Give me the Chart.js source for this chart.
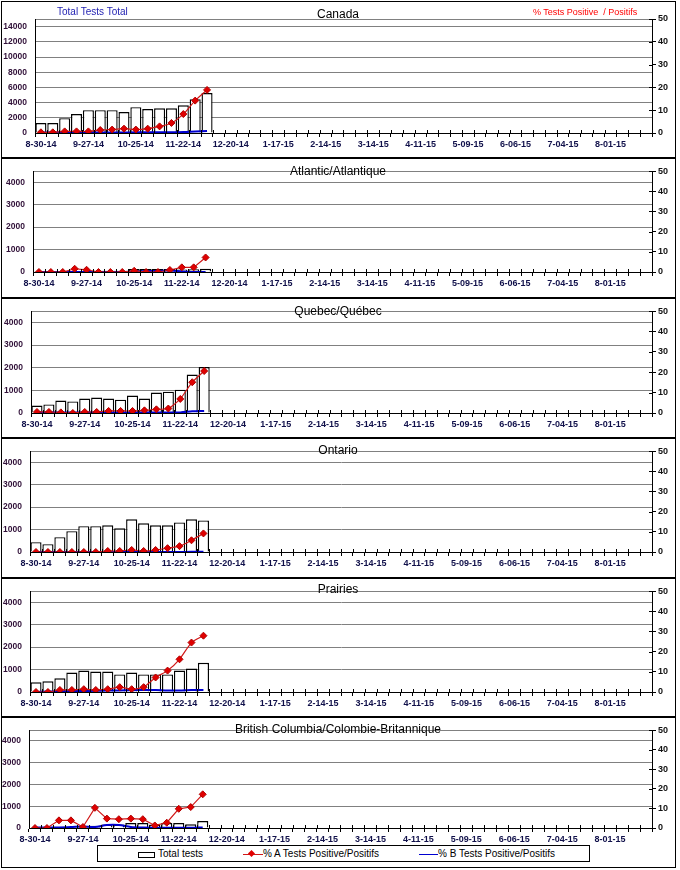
<!DOCTYPE html>
<html>
<head>
<meta charset="utf-8">
<script src="https://cdn.jsdelivr.net/npm/chart.js@4.4.1/dist/chart.umd.min.js"></script>
<style>
  body { margin: 0; width: 680px; height: 870px; background: #fff; position: relative; overflow: hidden;
         font-family: "Liberation Sans", Arial, sans-serif; }
  .panel { position: absolute; left: 1px; width: 673px; border: 1px solid #000; box-sizing: content-box; }
  canvas { position: absolute; left: 0; }
  .title { position: absolute; left: 0; width: 676px; text-align: center; font-size: 12px; line-height: 12px; color: #000; }
  .note { position: absolute; font-size: 10px; line-height: 10px; white-space: pre; }
  #legend { position: absolute; left: 97px; top: 845px; width: 491px; height: 15px; border: 1px solid #000; background: #fff; }
  #legend span { position: absolute; }
  #legend .txt { font-size: 10px; line-height: 10px; top: 3px; white-space: nowrap; }
</style>
</head>
<body>

<script>
// Week labels (Saturday of each week)
const weeks = ['8-30-14','9-06-14','9-13-14','9-20-14','9-27-14','10-04-14','10-11-14','10-18-14','10-25-14',
  '11-01-14','11-08-14','11-15-14','11-22-14','11-29-14','12-06-14','12-13-14','12-20-14','12-27-14',
  '1-03-15','1-10-15','1-17-15','1-24-15','1-31-15','2-07-15','2-14-15','2-21-15','2-28-15','3-07-15',
  '3-14-15','3-21-15','3-28-15','4-04-15','4-11-15','4-18-15','4-25-15','5-02-15','5-09-15','5-16-15',
  '5-23-15','5-30-15','6-06-15','6-13-15','6-20-15','6-27-15','7-04-15','7-11-15','7-18-15','7-25-15',
  '8-01-15','8-08-15','8-15-15','8-22-15'];

// axis ticks (last value of the left lists is the unlabeled top of the plot)
const canadaLeftTicks = [0, 2000, 4000, 6000, 8000, 10000, 12000, 14000, 15000];
const regionLeftTicks = [0, 1000, 2000, 3000, 4000, 4500];
const rightTicks = [0, 10, 20, 30, 40, 50];

// Total tests per week
const canadaTests   = [1300,1300,1950,2500,3000,3000,3000,2750,3400,3150,3250,3250,3650,4450,5250];
const atlanticTests = [30,30,30,40,60,60,60,60,130,130,130,130,110,120,140];
const quebecTests   = [330,380,550,510,640,680,640,590,770,640,900,940,1030,1700,2030];
const ontarioTests  = [440,350,660,930,1150,1150,1190,1060,1460,1280,1190,1190,1320,1460,1410];
const prairiesTests = [435,478,609,870,957,913,913,783,870,783,783,783,957,1043,1304];
const bcTests       = [20,20,50,50,60,100,160,160,230,230,160,230,230,170,320];

// % A positive
const canadaA   = [0.3,0.3,0.7,0.7,0.7,1.3,1.5,1.9,1.5,1.9,2.9,4.4,8.3,14.2,18.9];
const atlanticA = [0,0,0,1.6,1.1,0,0,0,0.6,0,0,1.0,2.3,2.3,7.2];
const quebecA   = [0.5,0.5,0.3,0,0.5,0.5,1.0,1.0,1.0,1.3,1.8,2.2,6.9,15.1,20.6];
const ontarioA  = [0,0,0,0,0,0,0.5,0.5,1.0,0.5,1.0,1.9,2.9,5.8,9.2];
const prairiesA = [0,0,1.0,1.0,1.4,1.0,1.4,2.4,1.4,2.4,7.2,10.6,16.2,24.5,27.9];
const bcA       = [0,0,3.9,3.9,0.5,10.3,4.8,4.5,4.8,4.5,1.3,2.7,9.8,10.7,17.2];

// % B positive
const canadaB   = [0.2,0.2,0.2,0.2,0.2,0.2,0.2,0.2,0.3,0.3,0.3,0.3,0.4,0.7,0.9];
const atlanticB = [0,0,0,0,0,0,0,0,0.3,0.5,0.5,0.7,0.3,0,0];
const quebecB   = [0.3,0.3,0.3,0.3,0.3,0.3,0.3,0.3,0.3,0.3,0.3,0.3,0.3,0.8,1.0];
const ontarioB  = [0,0,0,0,0,0,0,0,0,0,0,0,0,0.1,0.1];
const prairiesB = [0,0.2,0.3,0.4,0.5,0.6,0.7,0.8,0.9,1.0,1.0,0.8,0.8,1.0,1.0];
const bcB       = [0.3,0.3,0.3,0.5,0.8,0.5,1.5,1.5,0.5,0.2,0.1,0.1,0.1,0.1,0.3];

const panels = [
  { title: 'Canada', tests: canadaTests, a: canadaA, b: canadaB, leftTicks: canadaLeftTicks,
    top: 1, h: 157, pad: 18, axisH: 25, left: 35, titleTop: 8, tension: 0.35 },
  { title: 'Atlantic/Atlantique', tests: atlanticTests, a: atlanticA, b: atlanticB, leftTicks: regionLeftTicks,
    top: 158, h: 140, pad: 10, axisH: 26, left: 33, titleTop: 165, tension: 0 },
  { title: 'Quebec/Québec', tests: quebecTests, a: quebecA, b: quebecB, leftTicks: regionLeftTicks,
    top: 298, h: 140, pad: 11, axisH: 25, left: 31, titleTop: 305, tension: 0.2 },
  { title: 'Ontario', tests: ontarioTests, a: ontarioA, b: ontarioB, leftTicks: regionLeftTicks,
    top: 438, h: 140, pad: 11, axisH: 26, left: 30, titleTop: 444, tension: 0.3 },
  { title: 'Prairies', tests: prairiesTests, a: prairiesA, b: prairiesB, leftTicks: regionLeftTicks,
    top: 578, h: 139, pad: 10, axisH: 25, left: 30, titleTop: 583, tension: 0.2 },
  { title: 'British Columbia/Colombie-Britannique', tests: bcTests, a: bcA, b: bcB, leftTicks: regionLeftTicks,
    top: 717, h: 151, pad: 11, axisH: 40, left: 29, titleTop: 723, tension: 0 }
];

// small tick marks on the inner side of the x axis and the right axis
const crossTicks = {
  id: 'crossTicks',
  afterDraw(chart) {
    const { ctx, chartArea: a, scales: { x, y1 } } = chart;
    ctx.save();
    ctx.strokeStyle = '#000';
    ctx.lineWidth = 1;
    ctx.beginPath();
    const w = (x.getPixelForValue(1) - x.getPixelForValue(0));
    for (let i = 0; i <= weeks.length; i++) {
      const px = Math.round(x.getPixelForValue(i) - w / 2) + 0.5;
      ctx.moveTo(px, a.bottom - 3);
      ctx.lineTo(px, a.bottom);
    }
    y1.ticks.forEach(t => {
      const py = Math.round(y1.getPixelForValue(t.value)) + 0.5;
      ctx.moveTo(a.right - 3, py);
      ctx.lineTo(a.right, py);
    });
    ctx.stroke();
    ctx.restore();
  }
};

const tickFont = { family: '"Liberation Sans", Arial', weight: 'bold' };

panels.forEach(p => {
  const box = document.createElement('div');
  box.className = 'panel';
  box.style.top = p.top + 'px';
  box.style.height = (p.h - 2) + 'px';
  document.body.appendChild(box);

  const cv = document.createElement('canvas');
  cv.width = 680;
  cv.height = p.h;
  cv.style.top = p.top + 'px';
  document.body.appendChild(cv);

  const t = document.createElement('div');
  t.className = 'title';
  t.style.top = p.titleTop + 'px';
  t.textContent = p.title;
  document.body.appendChild(t);

  const topTick = p.leftTicks[p.leftTicks.length - 1];

  new Chart(cv, {
    type: 'bar',
    data: {
      labels: weeks,
      datasets: [
        {
          type: 'line', label: '% A Tests Positive/Positifs', data: p.a, yAxisID: 'y1', order: 0,
          borderColor: '#d01818', borderWidth: 1.2, tension: p.tension,
          pointStyle: 'rectRot', pointRadius: 3.5, pointBackgroundColor: '#e00000', pointBorderColor: '#b00000', pointBorderWidth: 1
        },
        {
          type: 'line', label: '% B Tests Positive/Positifs', data: p.b, yAxisID: 'y1', order: 1,
          borderColor: '#0000d0', borderWidth: 2, pointRadius: 0, tension: 0.3
        },
        {
          type: 'bar', label: 'Total tests', data: p.tests, yAxisID: 'y', order: 2,
          backgroundColor: '#fff', borderColor: '#000', borderWidth: 1.4,
          barPercentage: 0.93, categoryPercentage: 1
        }
      ]
    },
    options: {
      responsive: false,
      animation: false,
      devicePixelRatio: 1,
      layout: { padding: { top: p.pad, left: 0, right: 0, bottom: 0 } },
      plugins: { legend: { display: false }, tooltip: { enabled: false } },
      scales: {
        x: {
          type: 'category',
          offset: true,
          grid: { offset: true, drawOnChartArea: false, tickLength: 4, color: '#000' },
          border: { color: '#000', width: 1 },
          ticks: {
            autoSkip: false, maxRotation: 0, minRotation: 0, padding: 2,
            color: '#10104a', font: { ...tickFont, size: 9 },
            callback: (v, i) => (i % 4 === 0 ? weeks[i] : '')
          },
          afterFit: s => { s.height = p.axisH; }
        },
        y: {
          type: 'linear', position: 'left', min: 0, max: topTick,
          grid: { display: true, drawOnChartArea: true, color: '#808080', drawTicks: false, lineWidth: 1 },
          border: { color: '#000', width: 1 },
          ticks: {
            autoSkip: false, padding: 8, color: '#301038', font: { ...tickFont, size: 8.5 },
            callback: v => (v === topTick ? '' : String(v))
          },
          afterBuildTicks: s => { s.ticks = p.leftTicks.map(v => ({ value: v })); },
          afterFit: s => { s.width = p.left; }
        },
        y1: {
          type: 'linear', position: 'right', min: 0, max: 50,
          grid: { display: true, drawOnChartArea: false, tickLength: 4, color: '#000' },
          border: { color: '#000', width: 1 },
          ticks: { autoSkip: false, padding: 2, color: '#111', font: { ...tickFont, size: 9 } },
          afterBuildTicks: s => { s.ticks = rightTicks.map(v => ({ value: v })); },
          afterFit: s => { s.width = 28; }
        }
      }
    },
    plugins: [crossTicks]
  });
});
</script>

<div class="note" style="left:57px; top:7px; color:#1c1cb0;">Total Tests Total</div>
<div class="note" style="left:533px; top:8px; color:#ff0000; font-size:9px; line-height:9px;">% Tests Positive  / Positifs</div>

<div id="legend">
  <span style="left:40px; top:6px; width:15px; height:4px; border:1px solid #000; background:#fff;"></span>
  <span class="txt" style="left:60px;">Total tests</span>
  <span style="left:145px; top:8px; width:20px; height:1px; background:#d01818;"></span>
  <span style="left:151px; top:5px; width:5px; height:5px; background:#e00000; transform:rotate(45deg);"></span>
  <span class="txt" style="left:165px;">% A Tests Positive/Positifs</span>
  <span style="left:321px; top:8px; width:19px; height:1px; background:#0000d0;"></span>
  <span class="txt" style="left:340px;">% B Tests Positive/Positifs</span>
</div>

</body>
</html>
